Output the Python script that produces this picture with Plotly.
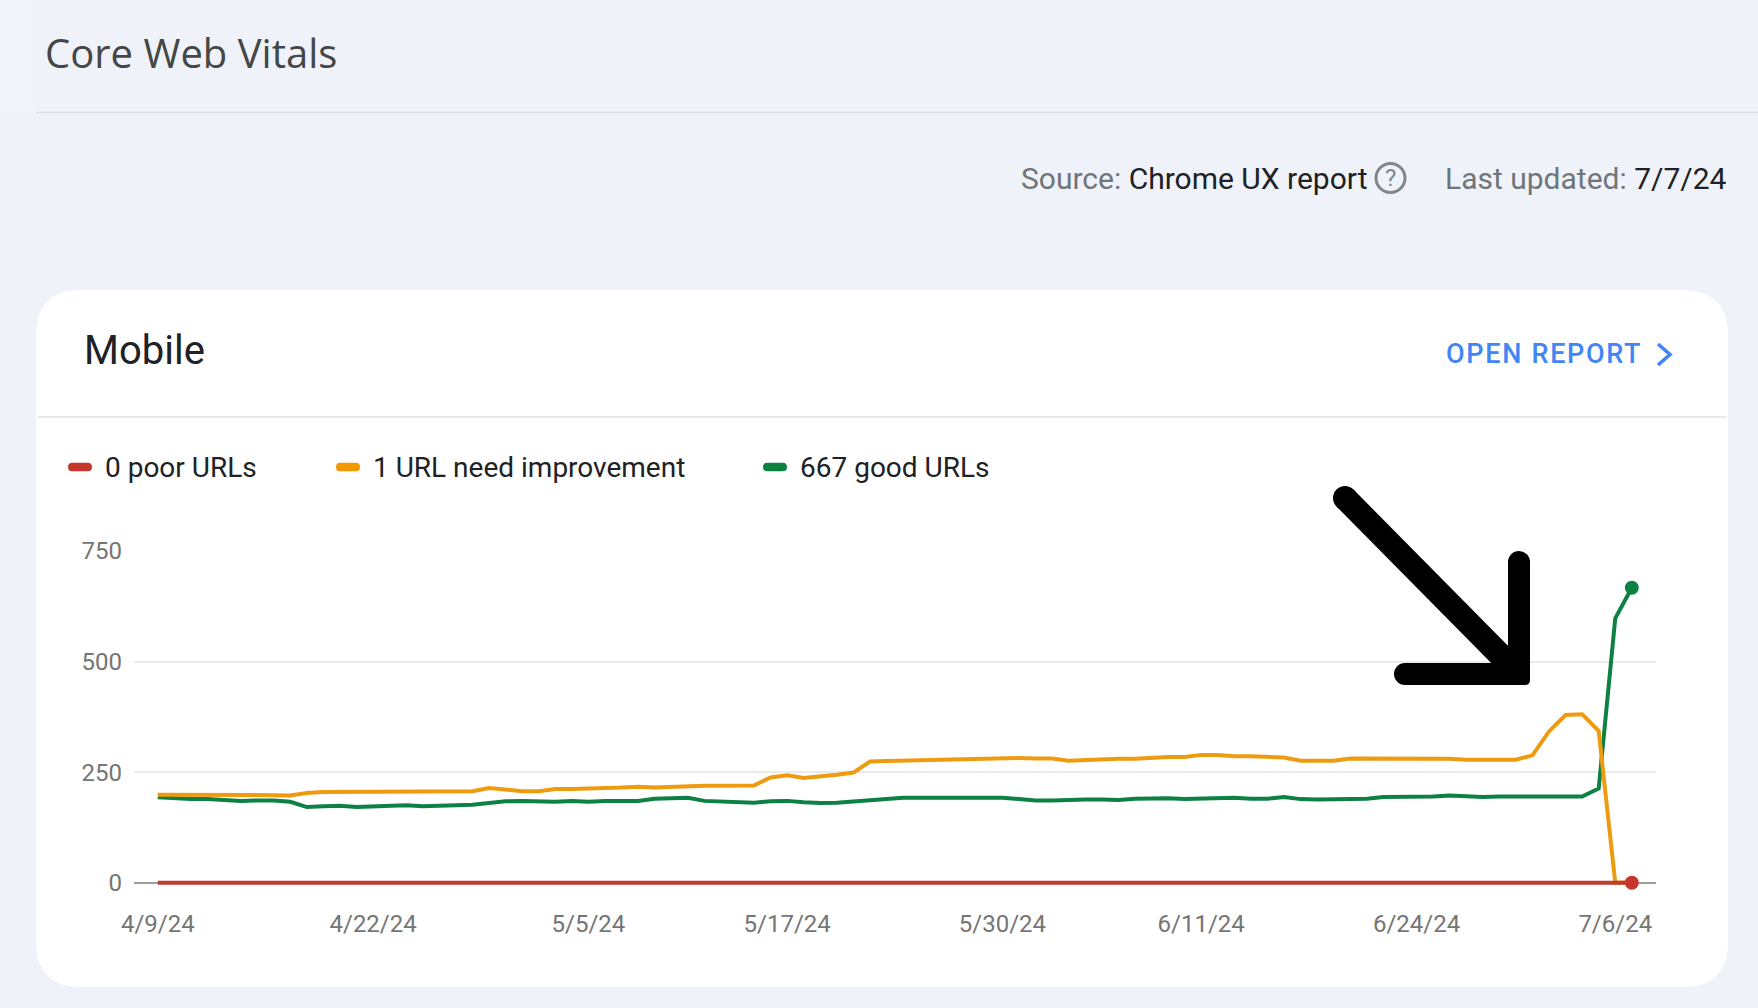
import plotly.graph_objects as go
import pandas as pd

W, H = 1758, 1008

dates = pd.date_range("2024-04-09", "2024-07-07", freq="D").strftime("%Y-%m-%d").tolist()

need_improvement = [199, 199, 200, 200, 200, 199, 200, 198, 197, 203,
                    205, 205, 205, 205, 206, 206, 206, 206, 207, 207,
                    214, 210, 207, 207, 212, 212, 214, 214, 215, 217,
                    215, 217, 217, 219, 219, 220, 220, 238, 243, 237,
                    240, 244, 249, 274, 275, 276, 277, 277, 277, 279,
                    281, 282, 282, 281, 281, 276, 278, 280, 280, 280,
                    283, 284, 284, 289, 289, 286, 286, 285, 283, 276,
                    276, 276, 281, 281, 281, 281, 280, 280, 280, 278,
                    278, 278, 278, 288, 342, 379, 381, 343, 0, 1]
good = [193, 190, 189, 189, 187, 185, 186, 186, 183, 171,
        173, 174, 171, 173, 174, 175, 173, 174, 174, 176,
        180, 184, 185, 183, 183, 185, 183, 185, 186, 185,
        190, 192, 192, 185, 184, 182, 181, 184, 185, 182,
        180, 181, 184, 186, 191, 192, 192, 192, 192, 190,
        192, 192, 189, 186, 186, 188, 188, 188, 187, 190,
        191, 191, 189, 190, 190, 192, 190, 190, 194, 189,
        188, 188, 189, 190, 194, 194, 194, 195, 197, 195,
        194, 195, 195, 195, 196, 197, 195, 213, 598, 667]
poor = [0] * len(dates)

y_ticks = [0, 250, 500, 750]
x_tick_dates = ["2024-04-09", "2024-04-22", "2024-05-05", "2024-05-17",
                "2024-05-30", "2024-06-11", "2024-06-24", "2024-07-06"]
x_tick_labels = ["4/9/24", "4/22/24", "5/5/24", "5/17/24",
                 "5/30/24", "6/11/24", "6/24/24", "7/6/24"]
legend_labels = ["0 poor URLs", "1 URL need improvement", "667 good URLs"]

RED, ORANGE, GREEN = "#bf3b2c", "#ee9b10", "#0d8044"
BG, CARD = "#eff3f9", "#ffffff"
FONT = "Roboto"


def X(p):
    return p / W


def Y(p):
    return 1 - p / H


def px_path(points):
    return "M " + " L ".join(f"{X(a):.5f},{Y(b):.5f}" for a, b in points)


def rounded(x0, y0, x1, y1, r):
    a, b = X, Y
    return (f"M {a(x0+r)},{b(y0)} L {a(x1-r)},{b(y0)} Q {a(x1)},{b(y0)} {a(x1)},{b(y0+r)} "
            f"L {a(x1)},{b(y1-r)} Q {a(x1)},{b(y1)} {a(x1-r)},{b(y1)} "
            f"L {a(x0+r)},{b(y1)} Q {a(x0)},{b(y1)} {a(x0)},{b(y1-r)} "
            f"L {a(x0)},{b(y0+r)} Q {a(x0)},{b(y0)} {a(x0+r)},{b(y0)} Z")


def text(x, y, s, size, color, anchor="left", family=FONT, weight=400):
    return dict(x=X(x), y=Y(y), xref="paper", yref="paper", text=s, showarrow=False,
                xanchor=anchor, yanchor="middle", align=anchor,
                font=dict(family=family, size=size, color=color, weight=weight),
                borderpad=0, xshift=0)


def line(points, color, width, layer="below"):
    return dict(type="path", path=px_path(points), xref="paper", yref="paper",
                line=dict(color=color, width=width), layer=layer)


def dot(cx, cy, r, color, layer="above"):
    return dict(type="circle", xref="paper", yref="paper",
                x0=X(cx - r), x1=X(cx + r), y0=Y(cy + r), y1=Y(cy - r),
                fillcolor=color, line=dict(width=0), layer=layer)


fig = go.Figure()
for name, vals, col in [(legend_labels[2], good, GREEN),
                        (legend_labels[1], need_improvement, ORANGE),
                        (legend_labels[0], poor, RED)]:
    fig.add_trace(go.Scatter(x=dates, y=vals, name=name, mode="lines",
                             line=dict(color=col, width=4), cliponaxis=False,
                             showlegend=False, hoverinfo="x+y"))
for name, vals, col in [(legend_labels[2], good, GREEN), (legend_labels[0], poor, "#c5372c")]:
    fig.add_trace(go.Scatter(x=dates[-1:], y=vals[-1:], mode="markers", cliponaxis=False,
                             marker=dict(color=col, size=14), showlegend=False, hoverinfo="skip"))

shapes = [
    dict(type="rect", xref="paper", yref="paper", x0=0, x1=X(36), y0=Y(112), y1=1,
         fillcolor="#f1f5fb", line=dict(width=0), layer="below"),
    line([(36, 112.5), (W, 112.5)], "#dde1e6", 1.6),
    dict(type="path", path=rounded(36, 290, 1728, 987, 46), xref="paper", yref="paper",
         fillcolor=CARD, line=dict(width=0), layer="below"),
    line([(38, 417), (1726, 417)], "#e0e0e0", 1.6),
    dict(type="circle", xref="paper", yref="paper", x0=X(1376), x1=X(1405), y0=Y(192.5), y1=Y(163.5),
         line=dict(color="#80868b", width=3), layer="below"),
    line([(1658, 344), (1670, 354.5), (1658, 365)], "#4285f4", 3.6),
]
for x0, col in [(68, "#c5372c"), (336, "#f29900"), (763, "#0d8044")]:
    shapes.append(dict(type="path", path=rounded(x0, 462.7, x0 + 24, 471.3, 4.3),
                       xref="paper", yref="paper", fillcolor=col, line=dict(width=0), layer="below"))

# hand-drawn arrow
shapes.append(line([(1345, 498), (1519, 674)], "#000000", 24, layer="above"))
shapes.append(line([(1519, 562), (1519, 674)], "#000000", 22, layer="above"))
shapes.append(line([(1405, 674), (1519, 674)], "#000000", 22, layer="above"))
shapes.append(dot(1345, 498, 12, "#000000"))
shapes.append(dot(1519, 562, 11, "#000000"))
shapes.append(dot(1405, 674, 11, "#000000"))
shapes.append(dict(type="path", path=rounded(1510, 665, 1530, 685, 5), xref="paper", yref="paper",
                   fillcolor="#000000", line=dict(width=0), layer="above"))

annotations = [
    text(43.5, 52, "Core Web Vitals", 40, "#444746", family="Open Sans"),
    text(1020, 178, '<span style="color:#70757a">Source: </span>Chrome UX report', 30, "#202124"),
    text(1390.5, 178, "?", 24, "#80868b", anchor="center"),
    text(1728, 178, '<span style="color:#70757a">Last updated: </span>7/7/24', 30, "#202124", anchor="right"),
    text(83, 350, "Mobile", 40, "#202124"),
    text(1445, 354, "OPEN REPORT", 27, "#4285f4", weight=500),
    text(103.5, 467, legend_labels[0], 28, "#202124"),
    text(371.5, 467, legend_labels[1], 28, "#202124"),
    text(799, 467, legend_labels[2], 28, "#202124"),
]

Y_MIN = -20
fig.update_layout(
    width=W, height=H, autosize=False,
    margin=dict(l=0, r=0, t=0, b=0, pad=0, autoexpand=False),
    paper_bgcolor=BG, plot_bgcolor=CARD,
    font=dict(family=FONT),
    showlegend=False,
    shapes=shapes, annotations=annotations,
    xaxis=dict(type="date", domain=[X(134), X(1656)],
               range=["2024-04-07 13:30", "2024-07-08 11:02"],
               tickmode="array", tickvals=x_tick_dates, ticktext=x_tick_labels,
               tickfont=dict(family=FONT, size=24, color="#757575"),
               showgrid=False, ticks="", ticklabelstandoff=15, showline=False, zeroline=False,
               automargin=False),
    yaxis=dict(domain=[Y(891.55), Y(551)], range=[Y_MIN, 750],
               tickmode="array", tickvals=y_ticks,
               tickfont=dict(family=FONT, size=24, color="#757575"),
               showgrid=True, gridcolor="#ebebeb", gridwidth=1.6,
               zeroline=True, zerolinecolor="#9e9e9e", zerolinewidth=1.6,
               ticks="", ticklabelstandoff=11, showline=False, automargin=False),
)

spacing_js = ("var f=function(){document.querySelectorAll('.annotation-text').forEach(function(t){"
              "if(t.textContent==='OPEN REPORT'){t.style.letterSpacing='1.7px';}});};f();setTimeout(f,50);")
fig.write_html("out.html", config={"displayModeBar": False},
               post_script="document.body.style.margin='0';document.body.style.overflow='hidden';" + spacing_js)
